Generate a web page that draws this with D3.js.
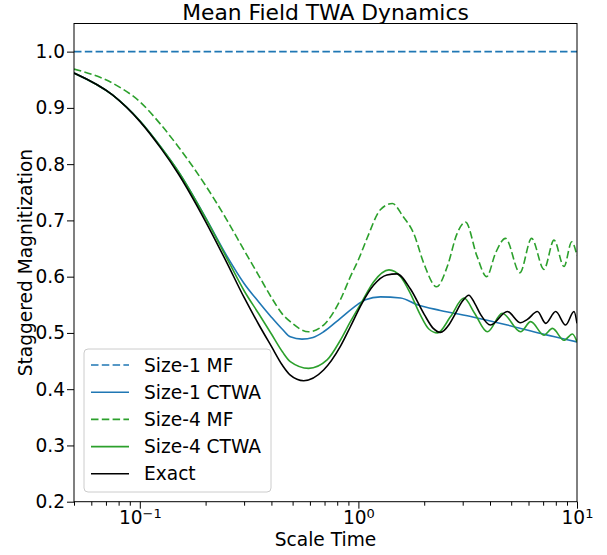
<!DOCTYPE html>
<html>
<head>
<meta charset="utf-8">
<script src="https://cdn.jsdelivr.net/npm/d3@7"></script>
<style>
  body { margin: 0; background: #fff; }
  text { font-family: "DejaVu Sans", sans-serif; fill: #000; }
</style>
</head>
<body>
<svg id="chart" width="607" height="555"></svg>
<script>
// --- data (t = scaled time, v = staggered magnetization)
const mf1T = [0.05, 10];
const mf1V = [1.0, 1.0];

const ctwa1T = [0.05, 0.075, 0.1, 0.125, 0.15, 0.2, 0.25, 0.3, 0.35, 0.4, 0.45, 0.488, 0.552, 0.62, 0.693, 0.827, 0.986, 1.077, 1.26, 1.56, 1.86, 2.37, 3.37, 4.8, 6.82, 10];
const ctwa1V = [0.962, 0.923, 0.877, 0.830, 0.787, 0.705, 0.637, 0.588, 0.555, 0.528, 0.506, 0.493, 0.489, 0.492, 0.502, 0.526, 0.550, 0.559, 0.564, 0.562, 0.550, 0.540, 0.528, 0.514, 0.499, 0.484];

const mf4T = [0.05, 0.075, 0.1, 0.125, 0.15, 0.2, 0.25, 0.3, 0.35, 0.4, 0.45, 0.488, 0.592, 0.693, 0.827, 0.919, 1.0, 1.1, 1.26, 1.43, 1.6, 1.79, 1.99, 2.28, 2.55, 2.83, 3.09, 3.49, 3.86, 4.24, 4.71, 5.48, 6.2, 7.06, 7.85, 8.72, 9.46, 10];
const mf4V = [0.969, 0.944, 0.911, 0.870, 0.831, 0.762, 0.701, 0.647, 0.602, 0.563, 0.533, 0.520, 0.502, 0.514, 0.559, 0.600, 0.630, 0.670, 0.719, 0.730, 0.707, 0.677, 0.624, 0.582, 0.618, 0.677, 0.697, 0.636, 0.600, 0.642, 0.668, 0.607, 0.668, 0.613, 0.665, 0.618, 0.662, 0.637];

const ctwa4T = [0.05, 0.075, 0.1, 0.125, 0.15, 0.2, 0.25, 0.3, 0.35, 0.4, 0.45, 0.488, 0.592, 0.719, 0.827, 0.919, 1.04, 1.175, 1.38, 1.56, 1.73, 1.92, 2.1, 2.3, 2.64, 3.04, 3.4, 3.89, 4.55, 5.52, 6.14, 7.06, 7.72, 8.72, 9.53, 10];
const ctwa4V = [0.962, 0.923, 0.877, 0.830, 0.787, 0.704, 0.633, 0.575, 0.534, 0.498, 0.466, 0.449, 0.437, 0.452, 0.487, 0.520, 0.556, 0.591, 0.612, 0.600, 0.570, 0.532, 0.507, 0.500, 0.529, 0.562, 0.535, 0.502, 0.535, 0.502, 0.520, 0.496, 0.508, 0.487, 0.498, 0.484];

const exactT = [0.05, 0.075, 0.1, 0.125, 0.15, 0.2, 0.25, 0.3, 0.35, 0.4, 0.45, 0.488, 0.562, 0.693, 0.827, 0.919, 1.04, 1.175, 1.35, 1.5, 1.73, 2.0, 2.2, 2.37, 2.6, 2.73, 3.0, 3.2, 3.4, 3.62, 4.02, 4.8, 5.52, 5.93, 6.59, 7.19, 7.99, 8.87, 9.69, 10];
const exactV = [0.962, 0.923, 0.876, 0.828, 0.783, 0.698, 0.625, 0.563, 0.515, 0.476, 0.442, 0.425, 0.415, 0.434, 0.476, 0.511, 0.553, 0.585, 0.603, 0.605, 0.578, 0.533, 0.508, 0.501, 0.515, 0.529, 0.557, 0.567, 0.553, 0.533, 0.514, 0.538, 0.518, 0.524, 0.538, 0.517, 0.538, 0.514, 0.538, 0.517];

const yTicks = [0.2, 0.3, 0.4, 0.5, 0.6, 0.7, 0.8, 0.9, 1.0];
const xTicks = [0.1, 1, 10];
const xTickExp = ["\u22121", "0", "1"];

const seriesNames = ["Size-1 MF", "Size-1 CTWA", "Size-4 MF", "Size-4 CTWA", "Exact"];
const seriesColors = ["#1f77b4", "#1f77b4", "#2ca02c", "#2ca02c", "#000000"];
const seriesDashed = [true, false, true, false, false];

const series = [
  [mf1T, mf1V], [ctwa1T, ctwa1V], [mf4T, mf4V], [ctwa4T, ctwa4V], [exactT, exactV]
].map(([t, v], i) => ({
  name: seriesNames[i], color: seriesColors[i], dashed: seriesDashed[i],
  pts: t.map((d, j) => ({ t: d, v: v[j] }))
}));

// --- layout
const margin = { top: 23.5, right: 30, bottom: 53.3, left: 74 };
const W = 607, H = 555;
const width = W - margin.left - margin.right;
const height = H - margin.top - margin.bottom;
const fs = "18.6px";

const svg = d3.select("#chart");
const g = svg.append("g").attr("transform", `translate(${margin.left},${margin.top})`);

const x = d3.scaleLog().domain([0.05, 10]).range([0, width]);
const y = d3.scaleLinear().domain([0.2, 1.05]).range([height, 0]);

g.append("clipPath").attr("id", "clip")
  .append("rect").attr("width", width).attr("height", height);

const line = d3.line()
  .x(d => x(d.t))
  .y(d => y(d.v))
  .curve(d3.curveMonotoneX);

g.append("g").attr("clip-path", "url(#clip)")
  .selectAll("path")
  .data(series)
  .enter().append("path")
    .attr("d", d => line(d.pts))
    .attr("fill", "none")
    .attr("stroke", d => d.color)
    .attr("stroke-width", 1.6)
    .attr("stroke-dasharray", d => d.dashed ? "7.5,3.3" : null);

// --- axes
const yAxis = d3.axisLeft(y).tickValues(yTicks).tickSize(7).tickPadding(2)
  .tickFormat(d3.format(".1f"));
const yg = g.append("g").call(yAxis);
yg.selectAll("text").style("font-size", fs);

const minorT = [];
[0.01, 0.1, 1].forEach(p => { for (let k = 2; k <= 9; k++) { const v = k * p; if (v >= 0.05 && v <= 10) minorT.push(v); } });
g.append("g").attr("transform", `translate(0,${height})`)
  .call(d3.axisBottom(x).tickValues(minorT).tickSize(4).tickFormat(""));

const xg = g.append("g").attr("transform", `translate(0,${height})`)
  .call(d3.axisBottom(x).tickValues(xTicks).tickSize(7).tickPadding(2).tickFormat(""));
xg.selectAll(".tick text").each(function (d, i) {
  const t = d3.select(this).style("font-size", fs).text("10");
  t.append("tspan").attr("dy", "-0.45em").style("font-size", "13px").text(xTickExp[i]);
});

g.selectAll(".domain").remove();
g.selectAll(".tick line").attr("stroke", "#000").attr("stroke-width", 1);

g.append("rect").attr("width", width).attr("height", height)
  .attr("fill", "none").attr("stroke", "#000").attr("stroke-width", 1);

// --- labels
svg.append("text").attr("x", margin.left + width / 2).attr("y", 20.3)
  .attr("text-anchor", "middle").style("font-size", "21.8px").text("Mean Field TWA Dynamics");
svg.append("text").attr("x", margin.left + width / 2).attr("y", 546)
  .attr("text-anchor", "middle").style("font-size", fs).text("Scale Time");
svg.append("text").attr("transform", `translate(32,${margin.top + height / 2}) rotate(-90)`)
  .attr("text-anchor", "middle").style("font-size", fs).text("Staggered Magnitization");

// --- legend
const leg = svg.append("g").attr("transform", "translate(84,349)");
leg.append("rect").attr("width", 187).attr("height", 143).attr("rx", 4)
  .attr("fill", "#fff").attr("fill-opacity", 0.8).attr("stroke", "#ccc").attr("stroke-width", 1);
const item = leg.selectAll("g.item").data(series).enter().append("g")
  .attr("class", "item")
  .attr("transform", (d, i) => `translate(0,${16 + i * 27.2})`);
item.append("line").attr("x1", 7).attr("x2", 45)
  .attr("stroke", d => d.color).attr("stroke-width", 1.6)
  .attr("stroke-dasharray", d => d.dashed ? "7.5,3.3" : null);
item.append("text").attr("x", 60).attr("dy", "0.35em").style("font-size", fs)
  .text(d => d.name);
</script>
</body>
</html>
